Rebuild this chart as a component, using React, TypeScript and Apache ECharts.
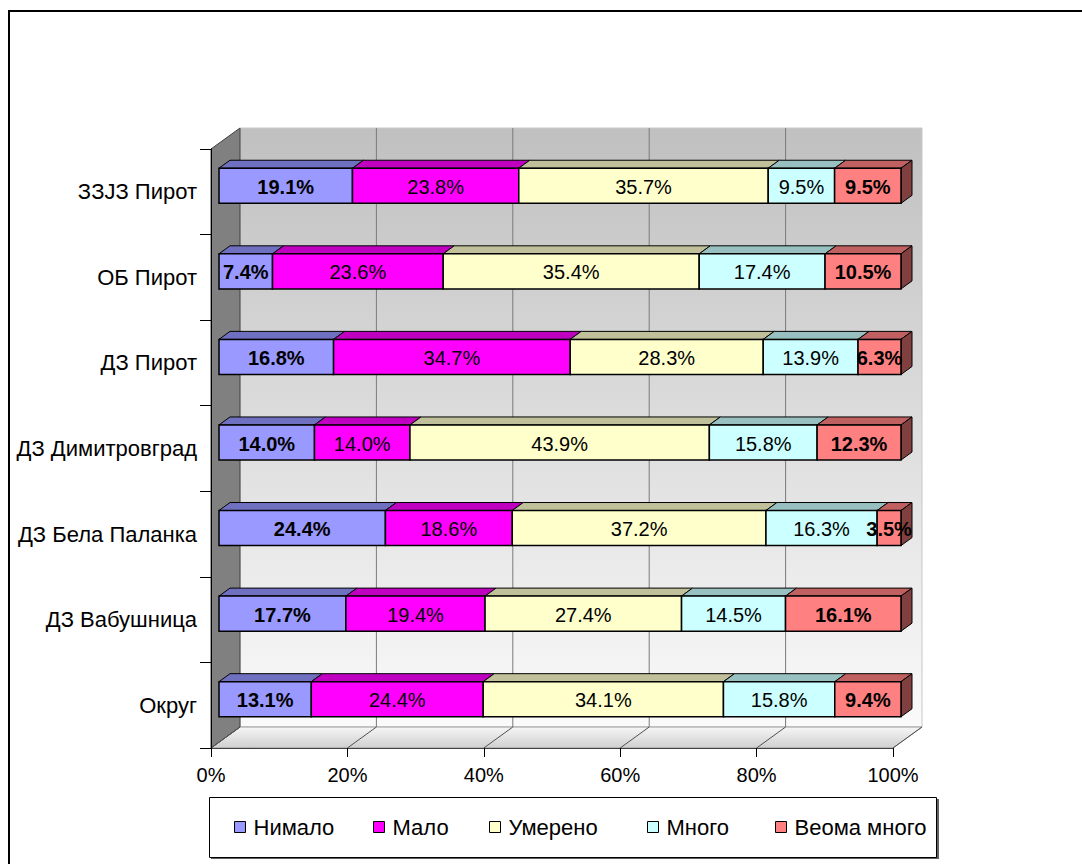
import React, { useEffect, useRef } from "react";
import * as echarts from "echarts";

const categories = [
  "ЗЗЈЗ Пирот",
  "ОБ Пирот",
  "ДЗ Пирот",
  "ДЗ Димитровград",
  "ДЗ Бела Паланка",
  "ДЗ Вабушница",
  "Округ",
];
const seriesNames = ["Нимало", "Мало", "Умерено", "Много", "Веома много"];
const nimalo = [19.1, 7.4, 16.8, 14.0, 24.4, 17.7, 13.1];
const malo = [23.8, 23.6, 34.7, 14.0, 18.6, 19.4, 24.4];
const umereno = [35.7, 35.4, 28.3, 43.9, 37.2, 27.4, 34.1];
const mnogo = [9.5, 17.4, 13.9, 15.8, 16.3, 14.5, 15.8];
const veomaMnogo = [9.5, 10.5, 6.3, 12.3, 3.5, 16.1, 9.4];
const seriesValues = [nimalo, malo, umereno, mnogo, veomaMnogo];

const frontColors = ["#9999ff", "#ff00ff", "#ffffcc", "#ccffff", "#ff8080"];
const topColors = ["#7070c0", "#c000c0", "#c0c09a", "#99c0c0", "#c06060"];
const sideColors = ["#4c4c80", "#800080", "#80806a", "#668080", "#804040"];
const boldLabel = [true, false, false, false, true];
const legendLeft = [234, 373, 489, 647, 775];

const FONT = '"Liberation Sans", Arial, sans-serif';
// 3D projection offsets (pixels)
const WALL_DX = 29;
const WALL_DY = -21;
const BAR_OX = 8;
const BAR_OY = -6;
const BAR_DX = 11;
const BAR_DY = -8;

function sum(a: number[]) {
  return a.reduce((s, v) => s + v, 0);
}

function makeBarRenderer(s: number) {
  return (params: any, api: any) => {
    const ci = api.value(1);
    const row = seriesValues.map((arr) => arr[ci]);
    const total = sum(row);
    const start = (sum(row.slice(0, s)) / total) * 100;
    const end = start + (row[s] / total) * 100;
    const p0 = api.coord([start, ci]);
    const p1 = api.coord([end, ci]);
    const band = api.size([0, 1])[1];
    const h = band * 0.41;
    const x0 = p0[0] + BAR_OX;
    const x1 = p1[0] + BAR_OX;
    const yc = p0[1] + BAR_OY;
    const top = yc - h / 2;
    const bottom = yc + h / 2;
    const children: any[] = [
      {
        type: "polygon",
        shape: {
          points: [
            [x0, top],
            [x1, top],
            [x1 + BAR_DX, top + BAR_DY],
            [x0 + BAR_DX, top + BAR_DY],
          ],
        },
        style: { fill: topColors[s], stroke: "#000", lineWidth: 1 },
      },
    ];
    if (s === seriesValues.length - 1) {
      children.push({
        type: "polygon",
        shape: {
          points: [
            [x1, top],
            [x1 + BAR_DX, top + BAR_DY],
            [x1 + BAR_DX, bottom + BAR_DY],
            [x1, bottom],
          ],
        },
        style: { fill: sideColors[s], stroke: "#000", lineWidth: 1 },
      });
    }
    children.push({
      type: "rect",
      shape: { x: x0, y: top, width: x1 - x0, height: h },
      style: { fill: frontColors[s], stroke: "#000", lineWidth: 1.5 },
    });
    children.push({
      type: "text",
      x: (x0 + x1) / 2,
      y: yc + 1,
      style: {
        text: row[s].toFixed(1) + "%",
        align: "center",
        verticalAlign: "middle",
        fontSize: 20,
        fontWeight: boldLabel[s] ? "bold" : "normal",
        fontFamily: FONT,
        fill: "#000",
      },
    });
    return { type: "group", children };
  };
}

function renderWalls(params: any, api: any) {
  const cs = params.coordSys;
  const L = cs.x;
  const T = cs.y;
  const R = cs.x + cs.width;
  const B = cs.y + cs.height;
  const children: any[] = [];
  // back wall
  children.push({
    type: "rect",
    shape: { x: L + WALL_DX, y: T + WALL_DY, width: cs.width, height: cs.height },
    style: {
      fill: new echarts.graphic.LinearGradient(0, 0, 0, 1, [
        { offset: 0, color: "#c0c0c0" },
        { offset: 1, color: "#fafafa" },
      ]),
      stroke: "#c8c8c8",
      lineWidth: 1,
    },
  });
  // floor
  children.push({
    type: "polygon",
    shape: {
      points: [
        [L, B],
        [R, B],
        [R + WALL_DX, B + WALL_DY],
        [L + WALL_DX, B + WALL_DY],
      ],
    },
    style: {
      fill: new echarts.graphic.LinearGradient(0, 0, 0, 1, [
        { offset: 0, color: "#f6f6f6" },
        { offset: 1, color: "#cfcfcf" },
      ]),
      stroke: "#9a9a9a",
      lineWidth: 1,
    },
  });
  // side wall
  children.push({
    type: "polygon",
    shape: {
      points: [
        [L, T],
        [L + WALL_DX, T + WALL_DY],
        [L + WALL_DX, B + WALL_DY],
        [L, B],
      ],
    },
    style: { fill: "#808080", stroke: "#404040", lineWidth: 1 },
  });
  // gridlines on back wall and floor
  [0, 20, 40, 60, 80, 100].forEach((v) => {
    const x = api.coord([v, 0])[0];
    if (v > 0 && v < 100) {
      children.push({
        type: "line",
        shape: { x1: x + WALL_DX, y1: T + WALL_DY, x2: x + WALL_DX, y2: B + WALL_DY },
        style: { stroke: "#7a7a7a", lineWidth: 1 },
      });
    }
    children.push({
      type: "line",
      shape: { x1: x, y1: B, x2: x + WALL_DX, y2: B + WALL_DY },
      style: { stroke: "#505050", lineWidth: 1 },
    });
  });
  return { type: "group", children };
}

export default function App() {
  const ref = useRef<HTMLDivElement>(null);
  useEffect(() => {
    if (!ref.current) return;
    const chart = echarts.init(ref.current, undefined, { renderer: "svg" });
    const barSeries = seriesNames.map((name, s) => ({
      name,
      type: "custom",
      renderItem: makeBarRenderer(s),
      data: seriesValues[s].map((v, i) => [v, i]),
      encode: { x: 0, y: 1 },
      itemStyle: { color: frontColors[s], borderColor: "#000", borderWidth: 1 },
      clip: false,
      z: 3,
    }));
    chart.setOption({
      animation: false,
      backgroundColor: "#ffffff",
      color: frontColors,
      textStyle: { fontFamily: FONT },
      grid: { left: 211, top: 149, right: 189, bottom: 116 },
      xAxis: {
        type: "value",
        min: 0,
        max: 100,
        interval: 20,
        z: 5,
        axisLine: { show: true, lineStyle: { color: "#404040", width: 1 } },
        axisTick: { show: true, length: 9, lineStyle: { color: "#000" } },
        axisLabel: {
          formatter: "{value}%",
          fontSize: 20,
          color: "#000",
          margin: 17,
          fontFamily: FONT,
        },
        splitLine: { show: false },
      },
      yAxis: {
        type: "category",
        data: categories,
        inverse: true,
        z: 5,
        axisLine: { show: true, lineStyle: { color: "#000", width: 1 } },
        axisTick: { show: true, length: 11, lineStyle: { color: "#000" } },
        axisLabel: { fontSize: 22, color: "#000", margin: 14, fontFamily: FONT },
        splitLine: { show: false },
      },
      legend: seriesNames.map((name, s) => ({
        data: [name],
        left: legendLeft[s],
        top: 816,
        padding: 0,
        itemGap: 0,
        itemWidth: 11,
        itemHeight: 11,
        icon: "rect",
        selectedMode: false,
        itemStyle: { borderColor: "#000", borderWidth: 1 },
        textStyle: { fontSize: 22, color: "#000", fontFamily: FONT, lineHeight: 22, padding: [0, 0, 0, 3] },
      })),
      graphic: [
        {
          type: "rect",
          z: -1,
          shape: { x: 9, y: 11, width: 1200, height: 1000 },
          style: { fill: "none", stroke: "#000", lineWidth: 2 },
        },
        {
          type: "rect",
          z: -1,
          shape: { x: 211, y: 799, width: 728, height: 60 },
          style: { fill: "#606060" },
        },
        {
          type: "rect",
          z: -1,
          shape: { x: 209.5, y: 797.5, width: 727, height: 60 },
          style: { fill: "#ffffff", stroke: "#000", lineWidth: 1 },
        },
      ],
      series: [
        {
          name: "walls",
          type: "custom",
          renderItem: renderWalls,
          data: [[0, 0]],
          encode: { x: 0, y: 1 },
          clip: false,
          silent: true,
          z: 1,
        },
        ...barSeries,
      ],
    });
    return () => chart.dispose();
  }, []);
  return (
    <div
      ref={ref}
      style={{ position: "fixed", left: 0, top: 0, width: 1082, height: 864, background: "#fff" }}
    />
  );
}
